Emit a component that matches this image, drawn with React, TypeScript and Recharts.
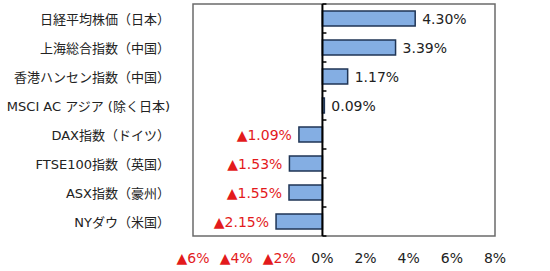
import { BarChart, Bar, XAxis, YAxis, ReferenceLine, ReferenceArea, LabelList } from 'recharts'

const indexNames = [
  '日経平均株価（日本）',
  '上海総合指数（中国）',
  '香港ハンセン指数（中国）',
  'MSCI AC アジア (除く日本)',
  'DAX指数（ドイツ）',
  'FTSE100指数（英国）',
  'ASX指数（豪州）',
  'NYダウ（米国）',
]
const changes = [4.30, 3.39, 1.17, 0.09, -1.09, -1.53, -1.55, -2.15]
const xTicks = [-6, -4, -2, 0, 2, 4, 6, 8]

const FONT = '"DejaVu Sans", "Noto Sans CJK JP", sans-serif'
const RED = '#e31a1c'

const data = indexNames.map((name, i) => ({ name, value: changes[i] }))

const fmt = (v: number, digits: number) =>
  v < 0 ? `▲${Math.abs(v).toFixed(digits)}%` : `${v.toFixed(digits)}%`

function XTick({ x, y, payload }: any) {
  const v = payload.value as number
  return (
    <text x={x} y={y} dy={10} textAnchor="middle" fontSize={14} fontFamily={FONT} fill={v < 0 ? RED : '#222'}>
      {fmt(v, 0)}
    </text>
  )
}

function YTick({ x, y, payload }: any) {
  return (
    <text x={x - 15} y={y} dy={5} textAnchor="end" fontSize={13} fontFamily={FONT} fill="#222">
      {payload.value}
    </text>
  )
}

function ValueLabel({ x, y, width, height, value }: any) {
  const left = Math.min(x, x + width)
  const right = Math.max(x, x + width)
  const neg = value < 0
  return (
    <text
      x={neg ? left - 7 : right + 7}
      y={y + height / 2}
      dy={5}
      textAnchor={neg ? 'end' : 'start'}
      fontSize={14}
      fontFamily={FONT}
      fill={neg ? RED : '#222'}
    >
      {fmt(value, 2)}
    </text>
  )
}

// small ticks on the zero line at category boundaries
function ZeroTicks({ viewBox }: any) {
  const { x, y, height } = viewBox
  const step = height / indexNames.length
  return (
    <g>
      {Array.from({ length: indexNames.length + 1 }, (_, i) => (
        <line key={i} x1={x} x2={x + 4} y1={y + i * step} y2={y + i * step} stroke="#000" strokeWidth={1.5} />
      ))}
    </g>
  )
}

export default function App() {
  return (
    <div style={{ position: 'absolute', left: 0, top: 0, background: '#fff' }}>
      <BarChart
        width={550}
        height={271}
        data={data}
        layout="vertical"
        margin={{ top: 4, right: 55, bottom: 5, left: 0 }}
        barSize={15}
      >
        <XAxis
          type="number"
          domain={[-6, 8]}
          ticks={xTicks}
          axisLine={false}
          tickLine={false}
          tick={<XTick />}
          tickMargin={11}
          height={30}
          interval={0}
        />
        <YAxis
          type="category"
          dataKey="name"
          width={193}
          axisLine={false}
          tickLine={false}
          interval={0}
          tick={<YTick />}
        />
        <ReferenceArea x1={-6} x2={8} fill="none" stroke="#6b6b6b" strokeWidth={1.5} ifOverflow="visible" />
        <Bar dataKey="value" fill="#84aee3" stroke="#1f3556" strokeWidth={1.5} isAnimationActive={false}>
          <LabelList dataKey="value" content={<ValueLabel />} />
        </Bar>
        <ReferenceLine x={0} stroke="#000" strokeWidth={2} label={<ZeroTicks />} />
      </BarChart>
    </div>
  )
}
